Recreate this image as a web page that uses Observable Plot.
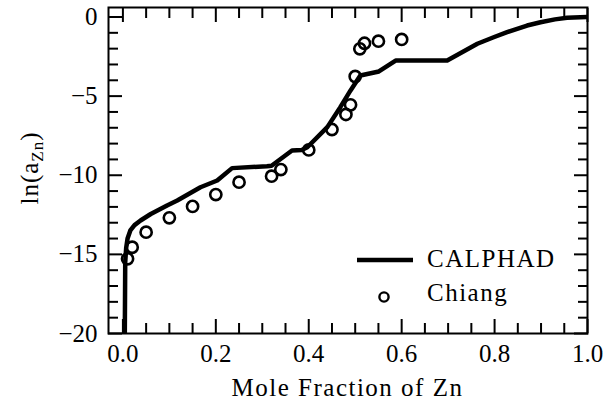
<!DOCTYPE html>
<html>
<head>
<meta charset="utf-8">
<script src="https://cdn.jsdelivr.net/npm/d3@7"></script>
<script src="https://cdn.jsdelivr.net/npm/@observablehq/plot@0.6"></script>
<style>
  html, body { margin: 0; padding: 0; background: #fff; }
  #chart { width: 604px; height: 404px; }
</style>
</head>
<body>
<div id="chart"></div>
<script>
// CALPHAD curve (mole fraction Zn, ln a_Zn)
const calphadX = [0.004, 0.005, 0.007, 0.010, 0.016, 0.025, 0.038, 0.060, 0.095, 0.117, 0.167, 0.203, 0.235, 0.310, 0.320, 0.364, 0.385, 0.397, 0.440, 0.468, 0.490, 0.511, 0.551, 0.587, 0.698, 0.763, 0.798, 0.827, 0.870, 0.899, 0.930, 0.956, 1.000];
const calphadY = [-20.5, -15.5, -14.6, -14.0, -13.49, -13.15, -12.86, -12.45, -11.91, -11.6, -10.76, -10.33, -9.55, -9.43, -9.40, -8.44, -8.40, -8.23, -6.96, -5.70, -4.64, -3.70, -3.44, -2.75, -2.75, -1.69, -1.28, -0.96, -0.54, -0.33, -0.15, -0.05, 0.0];
// Chiang experimental data
const chiangX = [0.01, 0.02, 0.05, 0.10, 0.15, 0.20, 0.25, 0.32, 0.34, 0.40, 0.45, 0.48, 0.49, 0.50, 0.51, 0.52, 0.55, 0.60];
const chiangY = [-15.28, -14.55, -13.6, -12.69, -11.97, -11.22, -10.44, -10.06, -9.64, -8.40, -7.11, -6.16, -5.55, -3.76, -2.01, -1.66, -1.53, -1.42];
// ticks
const xMajor = [0, 0.2, 0.4, 0.6, 0.8, 1.0];
const xMinor = [0.05, 0.1, 0.15, 0.25, 0.3, 0.35, 0.45, 0.5, 0.55, 0.65, 0.7, 0.75, 0.85, 0.9, 0.95];
const yMajor = [0, -5, -10, -15, -20];
const yMinor = [-1, -2, -3, -4, -6, -7, -8, -9, -11, -12, -13, -14, -16, -17, -18, -19];
const legendLabels = ["CALPHAD", "Chiang"];
const xLabel = "Mole Fraction of Zn";

const curve = calphadX.map((x, i) => ({x, y: calphadY[i]}));
const points = chiangX.map((x, i) => ({x, y: chiangY[i]}));

const W = 604, H = 404, mt = 7, mb = 71, ml = 108, mr = 17;
const MAJ = 14, MIN = 10, TW = 2;
const FONT = "'Liberation Serif', 'DejaVu Serif', serif";
const FS = 25;
const noText = () => "";

const chart = Plot.plot({
  width: W, height: H,
  marginTop: mt, marginBottom: mb, marginLeft: ml, marginRight: mr,
  style: {fontFamily: FONT, fontSize: FS + "px", color: "#000", background: "#fff"},
  x: {domain: [-0.031, 1.0], label: null},
  y: {domain: [-20, 0.6], label: null},
  marks: [
    Plot.line(curve, {x: "x", y: "y", stroke: "#000", strokeWidth: 4.5, clip: true, strokeLinejoin: "round"}),
    Plot.dot(points, {x: "x", y: "y", r: 5.6, stroke: "#000", strokeWidth: 2.6, fill: "none"}),
    Plot.frame({stroke: "#000", strokeWidth: 2}),
    // inward ticks on all four sides
    Plot.axisX(xMinor, {anchor: "bottom", tickSize: -MIN, strokeWidth: TW, tickFormat: noText, label: null}),
    Plot.axisX(xMinor, {anchor: "top", tickSize: -MIN, strokeWidth: TW, tickFormat: noText, label: null}),
    Plot.axisX(xMajor, {anchor: "top", tickSize: -MAJ, strokeWidth: TW, tickFormat: noText, label: null}),
    Plot.axisX(xMajor, {anchor: "bottom", tickSize: -MAJ, strokeWidth: TW, tickPadding: 10.5 + MAJ, tickFormat: d3.format(".1f"), label: null, fontSize: FS}),
    Plot.axisY(yMinor, {anchor: "left", tickSize: -MIN, strokeWidth: TW, tickFormat: noText, label: null}),
    Plot.axisY(yMinor, {anchor: "right", tickSize: -MIN, strokeWidth: TW, tickFormat: noText, label: null}),
    Plot.axisY(yMajor, {anchor: "right", tickSize: -MAJ, strokeWidth: TW, tickFormat: noText, label: null}),
    Plot.axisY(yMajor, {anchor: "left", tickSize: -MAJ, strokeWidth: TW, tickPadding: 11 + MAJ, tickFormat: d3.format("d"), label: null, fontSize: FS})
  ]
});
document.getElementById("chart").appendChild(chart);

const svg = d3.select(chart);

// x axis title
svg.append("text")
  .attr("x", (ml + W - mr) / 2).attr("y", 396)
  .attr("text-anchor", "middle")
  .attr("font-family", FONT).attr("font-size", FS)
  .attr("letter-spacing", "1.5px").attr("fill", "#000")
  .text(xLabel);

// y axis title with subscript
const yl = svg.append("text")
  .attr("transform", "translate(38,168) rotate(-90)")
  .attr("text-anchor", "middle")
  .attr("font-family", FONT)
  .attr("font-size", FS)
  .attr("letter-spacing", "1px")
  .attr("fill", "#000");
yl.append("tspan").text("ln(a");
yl.append("tspan").attr("font-size", 17).attr("dy", 5).text("Zn");
yl.append("tspan").attr("dy", -5).text(")");

// legend
const lg = svg.append("g").attr("font-family", FONT).attr("font-size", FS)
  .attr("fill", "#000").attr("text-anchor", "start").attr("letter-spacing", "1.5px");
lg.append("line").attr("x1", 357).attr("x2", 413).attr("y1", 260).attr("y2", 260)
  .attr("stroke", "#000").attr("stroke-width", 4.5);
lg.append("circle").attr("cx", 384).attr("cy", 297).attr("r", 4.6)
  .attr("fill", "none").attr("stroke", "#000").attr("stroke-width", 2.4);
lg.append("text").attr("x", 427).attr("y", 267).text(legendLabels[0]);
lg.append("text").attr("x", 427).attr("y", 301).text(legendLabels[1]);
</script>
</body>
</html>
